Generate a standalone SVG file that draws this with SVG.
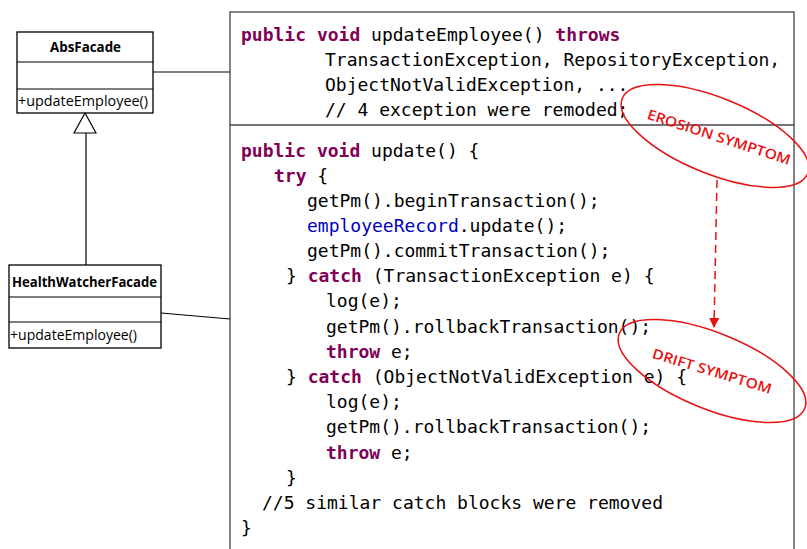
<svg xmlns="http://www.w3.org/2000/svg" width="807" height="549" viewBox="0 0 807 549">
<defs>
<style>
.box{fill:#fff;stroke:#000;stroke-width:1.3}
.uml{font-family:"Open Sans","Liberation Sans",sans-serif;font-size:14px;fill:#000}
.umlb{font-family:"Open Sans","Liberation Sans",sans-serif;font-size:13.5px;font-weight:bold;fill:#000}
.code{font-family:"DejaVu Sans Mono","Liberation Mono",monospace;font-size:18px;fill:#000}
.kw{fill:#7F0055;font-weight:bold}
.fld{fill:#0000C0}
.conn{stroke:#000;stroke-width:1.2;fill:none}
.red{stroke:#E81010;stroke-width:1.5;fill:none}
.redt{font-family:"Open Sans","Liberation Sans",sans-serif;font-size:14px;font-weight:600;fill:#E81010}
</style>
<marker id="ah" markerWidth="10" markerHeight="10" refX="9" refY="5" orient="auto" markerUnits="userSpaceOnUse">
<path d="M0,0 L10,5 L0,10 z" fill="#E81010"/>
</marker>
</defs>
<rect width="807" height="549" fill="#fff"/>

<g id="code-box">
<rect x="230" y="12" width="564" height="550" fill="#fff" stroke="#444" stroke-width="1.3"/>
<line x1="230" y1="125" x2="794" y2="125" stroke="#444" stroke-width="1.3"/>
<g class="code">
<text x="241" y="41"><tspan class="kw">public</tspan> <tspan class="kw">void</tspan> updateEmployee() <tspan class="kw">throws</tspan></text>
<text x="325" y="66">TransactionException, RepositoryException,</text>
<text x="325" y="91">ObjectNotValidException, ...</text>
<text x="325" y="116">// 4 exception were remoded;</text>
<text x="241" y="157"><tspan class="kw">public</tspan> <tspan class="kw">void</tspan> update() {</text>
<text x="274" y="182"><tspan class="kw">try</tspan> {</text>
<text x="307" y="207">getPm().beginTransaction();</text>
<text x="307" y="232"><tspan class="fld">employeeRecord</tspan>.update();</text>
<text x="307" y="257">getPm().commitTransaction();</text>
<text x="286" y="282">} <tspan class="kw">catch</tspan> (TransactionException e) {</text>
<text x="326" y="307">log(e);</text>
<text x="326" y="333">getPm().rollbackTransaction();</text>
<text x="326" y="358"><tspan class="kw">throw</tspan> e;</text>
<text x="286" y="383">} <tspan class="kw">catch</tspan> (ObjectNotValidException e) {</text>
<text x="326" y="408">log(e);</text>
<text x="326" y="433">getPm().rollbackTransaction();</text>
<text x="326" y="459"><tspan class="kw">throw</tspan> e;</text>
<text x="286" y="484">}</text>
<text x="262" y="509">//5 similar catch blocks were removed</text>
<text x="241" y="534">}</text>
</g>
</g>

<g id="AbsFacade">
<rect class="box" x="17" y="32" width="136" height="81"/>
<line class="conn" x1="17" y1="62" x2="153" y2="62"/>
<line class="conn" x1="17" y1="89" x2="153" y2="89"/>
<text class="umlb" x="50" y="52" textLength="71" lengthAdjust="spacingAndGlyphs">AbsFacade</text>
<text class="uml" x="18" y="106" textLength="130" lengthAdjust="spacingAndGlyphs">+updateEmployee()</text>
</g>

<g id="HealthWatcherFacade">
<rect class="box" x="9" y="265" width="152" height="83"/>
<line class="conn" x1="9" y1="297" x2="161" y2="297"/>
<line class="conn" x1="9" y1="322" x2="161" y2="322"/>
<text class="umlb" x="12" y="287" textLength="145" lengthAdjust="spacingAndGlyphs">HealthWatcherFacade</text>
<text class="uml" x="10" y="340" textLength="127" lengthAdjust="spacingAndGlyphs">+updateEmployee()</text>
</g>

<g id="erosion-symptom">
<ellipse class="red" cx="715" cy="136" rx="100" ry="38" transform="rotate(22 715 136)"/>
<text class="redt" x="719" y="142" text-anchor="middle" textLength="150" lengthAdjust="spacingAndGlyphs" transform="rotate(18 719 137)">EROSION SYMPTOM</text>
</g>

<g id="drift-symptom">
<ellipse class="red" cx="712" cy="371" rx="100" ry="38" transform="rotate(22 712 371)"/>
<text class="redt" x="712" y="376" text-anchor="middle" textLength="124" lengthAdjust="spacingAndGlyphs" transform="rotate(17 712 371)">DRIFT SYMPTOM</text>
</g>

<g id="connectors">
<line class="conn" x1="153" y1="72" x2="230" y2="72"/>
<line class="conn" x1="161" y1="313" x2="230" y2="319"/>
<line class="conn" x1="86" y1="133" x2="86" y2="265"/>
<path d="M85,113 L74,133 L96,133 z" fill="#fff" stroke="#000" stroke-width="1.2"/>
<line class="red" x1="717" y1="180" x2="714" y2="327" stroke-dasharray="8,5" marker-end="url(#ah)"/>
</g>
</svg>
